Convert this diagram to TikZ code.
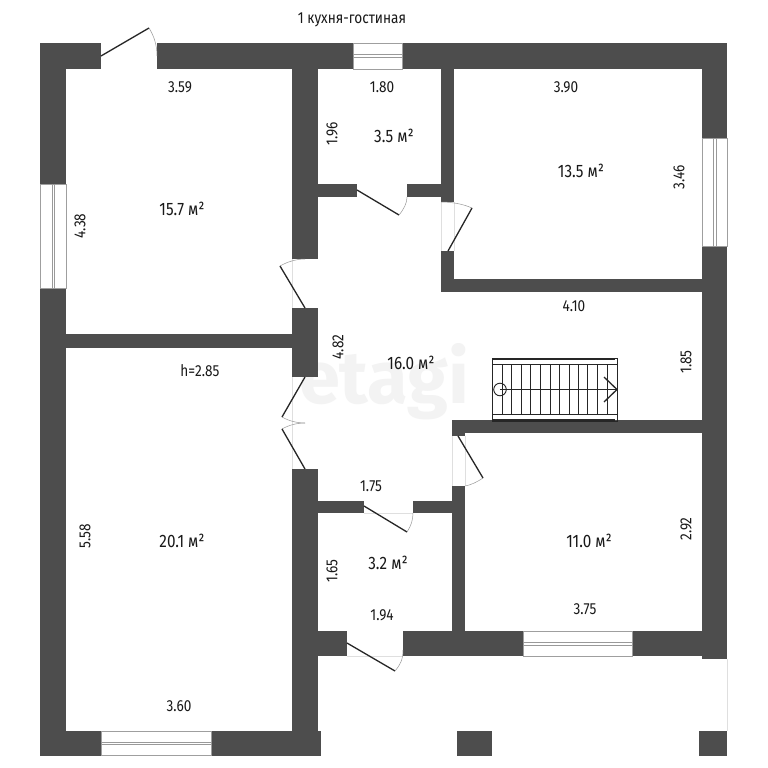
\documentclass[tikz,border=0pt]{standalone}
\usepackage{fontspec}
\setmainfont[FakeStretch=0.85]{Fira Sans}
\newfontfamily\markfont{Fira Sans}
\definecolor{wallc}{HTML}{4D4D4D}
\definecolor{markc}{HTML}{F3F3F3}
\tikzset{
  wallfill/.style={fill=wallc,draw=none},
  winframe/.style={fill=white,draw=gray!75,line width=0.8pt},
  winmid/.style={draw=gray!80,fill=white,line width=0.7pt},
  leaf/.style={draw=black!85,line width=1.3pt},
  swing/.style={draw=gray!80,line width=0.5pt},
  sill/.style={draw=gray!25,line width=0.5pt},
  stair/.style={draw=black!85,line width=0.9pt},
  lbl/.style={font=\fontsize{16}{18}\selectfont,text=black!90,inner sep=0pt},
  area/.style={font=\fontsize{18}{20}\selectfont,text=black!90,inner sep=0pt},
  vlbl/.style={lbl,rotate=90}
}
\begin{document}
\begin{tikzpicture}[x=1pt,y=-1pt]
\useasboundingbox (0,0) rectangle (768,768);
\fill[white] (0,0) rectangle (768,768);
\node[inner sep=0pt,text=markc,anchor=base] (mark) at (384,403) {\markfont\bfseries\fontsize{74}{74}\selectfont etagi};
% walls
\foreach \a/\b/\c/\d in {
 40/43/101/69, 157/43/353/69, 402/43/727/69,
 40/69/66/184, 40/288/66/731,
 40/731/101/756, 211/731/321/756,
 66/334/292/348,
 292/69/318/259, 292/308/318/377, 292/469/318/731,
 318/184/357/197, 407/184/441/197,
 441/69/454/202, 441/251/454/292, 441/279/702/292,
 702/69/727/138, 702/246/727/659,
 452/420/702/433, 452/420/465/436, 452/486/465/631,
 318/501/364/513, 413/501/452/513,
 318/631/347/656, 403/631/523/656, 632/631/702/656,
 457/731/492/756, 699/731/727/756}
 {\path[wallfill] (\a,\b) rectangle (\c,\d);}
% windows
\draw[winframe] (353,43) rectangle (402,69);
\draw[winmid] (353,54.5) rectangle (402,57);
\draw[winframe] (40.5,184) rectangle (66,288);
\draw[winmid] (52,184) rectangle (54.5,288);
\draw[winframe] (702,138) rectangle (727,246);
\draw[winmid] (713,138) rectangle (716.5,246);
\draw[winframe] (523,631) rectangle (632,656);
\draw[winmid] (523,642) rectangle (632,645);
\draw[winframe] (101,731) rectangle (211,755.5);
\draw[winmid] (101,742) rectangle (211,744.5);
% thresholds
\draw[sill] (292,259)--(292,308);
\draw[sill] (292,377)--(292,469);
\draw[sill] (441,202)--(441,251) (454,202)--(454,251);
\draw[sill] (452,436)--(452,486) (465,436)--(465,486);
\draw[sill] (364,513)--(413,513);
\draw[sill] (347,656)--(403,656);
\draw[sill] (727,659)--(727,731);
% door leaves and swings
\draw[leaf] (101,56)--(149,28);
\draw[swing] (149,28) .. controls (154,36) and (157,45) .. (157,56);
\draw[leaf] (357,190)--(399,215);
\draw[swing] (399,215) .. controls (404,209) and (407,203) .. (407,197);
\draw[leaf] (448,251)--(472,208);
\draw[swing] (472,208) .. controls (463,204) and (452,202) .. (441,202);
\draw[leaf] (305,308)--(280,266);
\draw[swing] (280,266) .. controls (287,262) and (296,259) .. (305,259);
\draw[leaf] (305,377)--(282,417);
\draw[swing] (282,417) .. controls (289,421) and (297,423) .. (305,423);
\draw[swing] (305,423) .. controls (297,423) and (289,425) .. (282,429);
\draw[leaf] (282,429)--(305,469);
\draw[leaf] (458,436)--(483,478);
\draw[swing] (483,478) .. controls (477,482) and (471,485) .. (465,486);
\draw[leaf] (364,506)--(407,532);
\draw[swing] (407,532) .. controls (411,526) and (413,520) .. (413,513);
\draw[leaf] (347,643)--(395,671);
\draw[swing] (395,671) .. controls (400,665) and (403,660) .. (403,650);
% stairs
\draw[stair] (492,358) rectangle (617,421);
\draw[stair,line width=1.8pt] (492,359)--(615,359) (492,420)--(615,420);
\draw[stair] (492,364)--(617,364) (492,414)--(617,414);
\foreach \x in {502,511.6,521.2,530.8,540.4,550,559.4,569,578.4,587.8,597.4,607}
  {\draw[stair] (\x,364)--(\x,414);}
\draw[stair] (500,389.5)--(617,389.5);
\draw[stair,fill=none] (500,389.5) circle (6.3);
\draw[stair,line width=1.3pt] (604,377)--(617,389.5)--(604,402);
% labels
\node[lbl] (title) at (352,20) {1 кухня-гостиная};
\node[lbl] (a1) at (180,87) {3.59};
\node[lbl] (a2) at (382,87) {1.80};
\node[lbl] (a3) at (566,87) {3.90};
\node[vlbl] (a4) at (332,134) {1.96};
\node[area] (a5) at (394,136) {3.5 м²};
\node[area] (a6) at (581,171) {13.5 м²};
\node[vlbl] (a7) at (679,177) {3.46};
\node[area] (a8) at (182,209) {15.7 м²};
\node[vlbl] (a9) at (80,226) {4.38};
\node[lbl] (a10) at (574,306) {4.10};
\node[vlbl] (a11) at (338,347) {4.82};
\node[area] (a12) at (411,363) {16.0 м²};
\node[lbl] (a13) at (200,371) {h=2.85};
\node[vlbl] (a14) at (686,362) {1.85};
\node[vlbl] (a15) at (85,536) {5.58};
\node[area] (a16) at (182,541) {20.1 м²};
\node[lbl] (a17) at (371,486) {1.75};
\node[area] (a18) at (589,541) {11.0 м²};
\node[vlbl] (a19) at (686,529) {2.92};
\node[area] (a20) at (388,563) {3.2 м²};
\node[vlbl] (a21) at (332,571) {1.65};
\node[lbl] (a22) at (382,615) {1.94};
\node[lbl] (a23) at (585,609) {3.75};
\node[lbl] (a24) at (179,706) {3.60};
\end{tikzpicture}
\end{document}
